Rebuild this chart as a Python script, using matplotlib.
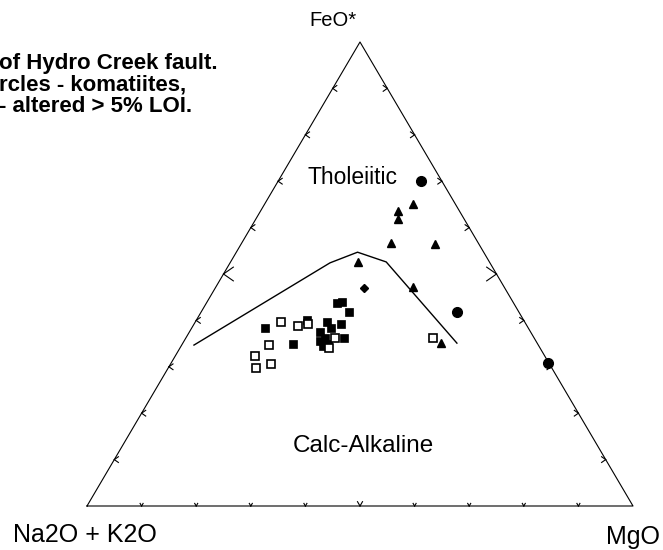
import numpy as np
import matplotlib
matplotlib.use("Agg")
from matplotlib import pyplot as plt

# ternary data, percent: FeO*, Na2O+K2O, MgO
komatiite_feo = [70.0, 41.8, 30.8]
komatiite_alk = [3.8, 11.3, 0.2]
komatiite_mgo = [26.2, 46.9, 69.0]

tri_feo = [65.1, 63.6, 61.9, 56.7, 56.5, 52.6, 47.2, 35.1]
tri_alk = [7.7, 11.2, 12.0, 15.9, 8.0, 24.1, 16.7, 17.7]
tri_mgo = [27.2, 25.2, 26.1, 27.4, 35.5, 23.3, 36.1, 47.2]

dia_feo = [47.0]
dia_alk = [25.8]
dia_mgo = [27.2]

sq_feo = [43.8, 44.0, 41.8, 38.4, 40.1, 39.7, 38.4, 39.2, 37.5, 35.6, 36.2, 34.9, 36.2, 34.9, 34.5]
sq_alk = [32.3, 31.3, 31.1, 48.2, 39.65, 36.2, 36.1, 33.9, 38.6, 39.5, 38.3, 38.4, 34.8, 44.8, 39.5]
sq_mgo = [23.9, 24.7, 27.1, 13.4, 20.25, 24.1, 25.5, 26.9, 23.9, 24.9, 25.5, 26.7, 29.0, 20.3, 26.0]

open_feo = [39.7, 38.8, 39.2, 34.7, 32.3, 30.6, 29.7, 36.2, 34.1, 36.2]
open_alk = [44.6, 42.0, 39.9, 49.3, 53.1, 51.0, 54.2, 36.5, 38.6, 18.5]
open_mgo = [15.7, 19.2, 20.9, 16.0, 14.6, 18.4, 16.1, 27.3, 27.3, 45.3]

# tholeiitic / calc-alkaline divide
line_feo = [34.7, 52.4, 54.7, 52.6, 35.1]
line_alk = [63.1, 29.3, 23.1, 18.9, 14.7]
line_mgo = [2.25, 18.3, 22.2, 28.5, 50.2]

XS, YS = 546.0, 464.0  # px per unit


def tern(f, a, m):
    f, a, m = np.asarray(f, float), np.asarray(a, float), np.asarray(m, float)
    s = f + a + m
    f, m = f / s, m / s
    return m + f / 2, f


fig = plt.figure(figsize=(6.63, 5.5), dpi=100)
ax = fig.add_axes([0, 0, 1, 1])
ax.set_xlim(-87 / XS, (663 - 87) / XS)
ax.set_ylim(-44 / YS, 506 / YS)
ax.axis("off")

# outline
ax.plot([0, 1, 0.5, 0], [0, 0, 1, 0], color="black", lw=0.8)


def chevron(x, y, ang, length, spread=35):
    for s in (-spread, spread):
        a = np.radians(ang + s)
        ax.plot([x, x + length * np.cos(a) / XS], [y, y + length * np.sin(a) / YS],
                color="black", lw=0.8)


for k in range(1, 10):
    big = k == 5
    L = 12 if big else 5
    x, y = tern(k, 10 - k, 0)      # left edge
    chevron(x, y, 0, L)
    x, y = tern(k, 0, 10 - k)      # right edge
    chevron(x, y, 180, L)
    x, y = tern(0, 10 - k, k)      # bottom edge
    chevron(x, y, 90, 5 if big else 3, spread=30)

lx, ly = tern(line_feo, line_alk, line_mgo)
ax.plot(lx, ly, color="black", lw=1.0)

x, y = tern(sq_feo, sq_alk, sq_mgo)
ax.plot(x, y, "s", color="black", ms=6, mew=0.5)
x, y = tern(open_feo, open_alk, open_mgo)
ax.plot(x, y, "s", mfc="white", mec="black", ms=6, mew=1.2)
x, y = tern(tri_feo, tri_alk, tri_mgo)
ax.plot(x, y, "^", color="black", ms=6)
x, y = tern(dia_feo, dia_alk, dia_mgo)
ax.plot(x, y, "D", color="black", ms=4.5)
x, y = tern(komatiite_feo, komatiite_alk, komatiite_mgo)
ax.plot(x, y, "o", color="black", ms=7)


def ptext(px, py, s, **kw):
    fig.text(px / 663, 1 - py / 550, s, **kw)


ptext(333, 21, "FeO*", fontsize=14.5, ha="center", va="center", family="Liberation Sans")
ptext(85, 535, "Na2O + K2O", fontsize=18, ha="center", va="center", family="Liberation Sans")
ptext(633, 537, "MgO", fontsize=18, ha="center", va="center", family="Liberation Sans")
ptext(352, 177, "Tholeiitic", fontsize=16.5, ha="center", va="center", family="Liberation Sans")
ptext(363, 446, "Calc-Alkaline", fontsize=17.5, ha="center", va="center", family="Liberation Sans")

note = {"fontsize": 16, "fontweight": "bold", "ha": "left", "va": "center",
        "family": "Liberation Sans"}
ptext(-1, 64, "of Hydro Creek fault.", **note)
ptext(-1, 85, "rcles - komatiites,", **note)
ptext(-1, 107, "- altered > 5% LOI.", **note)

fig.savefig("out.png", dpi=100, facecolor="white")
